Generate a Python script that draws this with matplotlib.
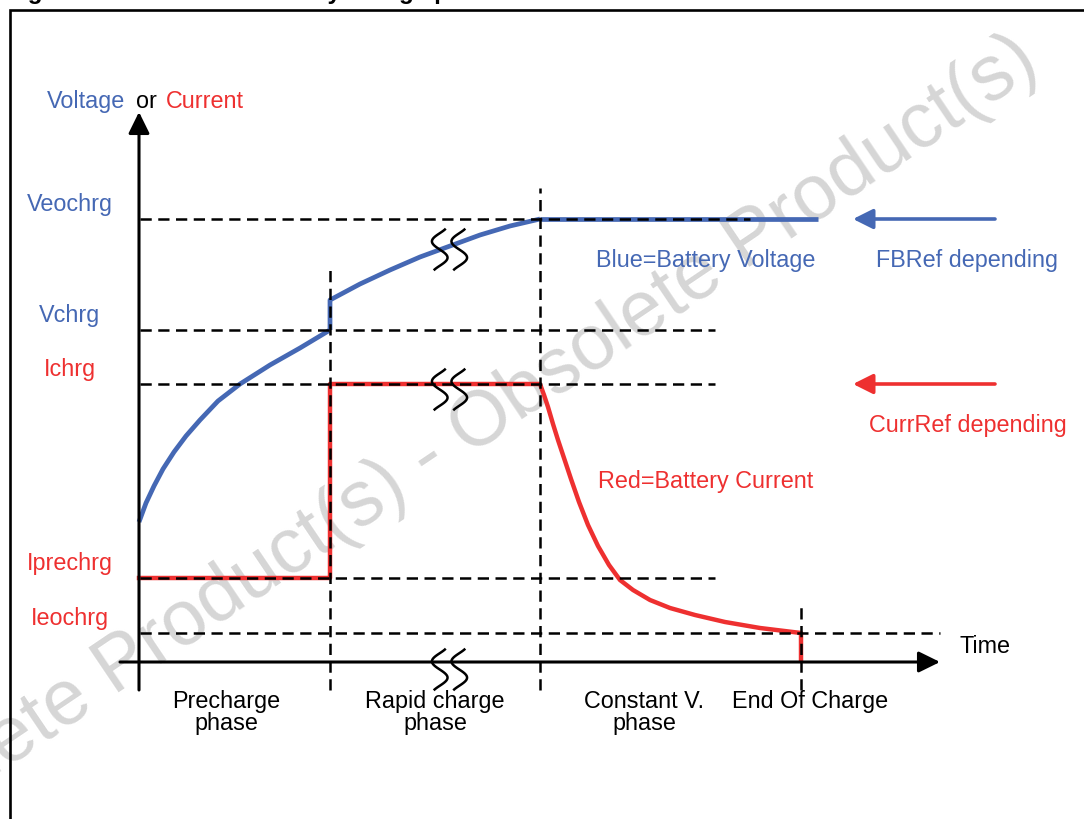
import numpy as np
import matplotlib
matplotlib.use('Agg')
import matplotlib.pyplot as plt
from matplotlib.path import Path

plt.rcParams['font.family'] = ['Liberation Sans', 'DejaVu Sans']

BLUE = '#4568b4'
RED = '#ee3030'

# ---------------- data (arbitrary units: time to the right, level upward) ----
level_names = ['Veochrg', 'Vchrg', 'Ichrg', 'Iprechrg', 'Ieochrg']
level_values = [443, 332, 278, 84, 29]
level_colors = [BLUE, BLUE, RED, RED, RED]
level_line_end = [611, 576, 576, 576, 801]

phase_bounds = [191, 401, 662]
phase_bound_top = [392, 474, 57]
phase_labels = ['Precharge\nphase', 'Rapid charge\nphase', 'Constant V.\nphase', 'End Of Charge']
phase_label_x = [87, 296, 505, 671]

# battery voltage
volt_pre_t = [0, 7, 15, 24, 35, 47, 61, 79, 101, 131, 161, 191]
volt_pre_v = [140, 159, 176, 193, 210, 226, 242, 261, 278, 297, 314, 332]
volt_rapid_t = [191, 191, 221, 251, 281, 311, 341, 371, 401]
volt_rapid_v = [332, 362, 378, 392, 405, 416, 427, 436, 443]
volt_cv_t = [401, 679]
volt_cv_v = [443, 443]

# battery current
curr_t = [0, 191, 191, 401, 405, 409, 414, 419, 425, 432, 440, 449, 459, 470,
          481, 494, 511, 531, 556, 586, 621, 662, 662]
curr_i = [84, 84, 278, 278, 267, 255, 238, 222, 204, 183, 160, 137, 116, 97,
          82, 72, 62, 54, 47, 40, 34, 29, 2]

# axis break symbols (time, level)
break_t = [310, 310, 310]
break_y = [413, 273, -7]

# ---------------- figure ----------------
fig = plt.figure(figsize=(10.84, 8.19), dpi=100)
ax = fig.add_axes([0, 0, 1, 1])
ax.set_xlim(-139, 945)
ax.set_ylim(-157, 662)
ax.axis('off')

# watermark
ax.text(290, 203, 'Obsolete Product(s) - Obsolete Product(s)', fontsize=56,
        color='#d6d6d6', rotation=34, rotation_mode='anchor',
        ha='center', va='center', zorder=0)

# frame
ax.plot([-129, -129, 960], [-160, 652, 652], color='k', lw=1.9,
        solid_joinstyle='miter', zorder=1, clip_on=False)

# title (cut at top)
ax.text(-133, 663, 'Figure 22.', fontsize=17.5, fontweight='bold', va='baseline',
        clip_on=False)
ax.text(48, 663, 'Li-ion battery charge profile', fontsize=17.5, fontweight='bold',
        va='baseline', clip_on=False)

# curves
ax.plot(volt_pre_t, volt_pre_v, color=BLUE, lw=3.4, solid_capstyle='butt',
        solid_joinstyle='round', zorder=3)
ax.plot(volt_rapid_t, volt_rapid_v, color=BLUE, lw=3.4, solid_capstyle='butt',
        solid_joinstyle='round', zorder=3)
ax.plot(volt_cv_t, volt_cv_v, color=BLUE, lw=3.4, solid_capstyle='butt', zorder=3)
ax.plot(curr_t, curr_i, color=RED, lw=3.2, solid_joinstyle='round', zorder=3)

# dashed guide lines
dash = (0, (4.5, 2.6))
for lv, xe in zip(level_values, level_line_end):
    ax.plot([1, xe], [lv, lv], color='k', lw=1.8, linestyle=dash, zorder=4)
for pb, top in zip(phase_bounds, phase_bound_top):
    ax.plot([pb, pb], [-28, top], color='k', lw=1.8, linestyle=dash, zorder=4)

# axes arrows
ax.annotate('', xy=(0, 550), xytext=(0, -28),
            arrowprops=dict(arrowstyle='-|>,head_length=0.65,head_width=0.32',
                            mutation_scale=20, lw=2.2, color='k',
                            shrinkA=0, shrinkB=0), zorder=5)
ax.annotate('', xy=(801, 0), xytext=(-19, 0),
            arrowprops=dict(arrowstyle='-|>,head_length=0.65,head_width=0.32',
                            mutation_scale=20, lw=2.2, color='k',
                            shrinkA=0, shrinkB=0), zorder=5)

# reference arrows on the right
for yv, col in [(level_values[0], BLUE), (level_values[2], RED)]:
    ax.annotate('', xy=(714, yv), xytext=(856, yv),
                arrowprops=dict(arrowstyle='-|>,head_length=0.6,head_width=0.3',
                                mutation_scale=20, lw=2.6, color=col,
                                shrinkA=0, shrinkB=0), zorder=5)

# break symbols (shape of the marker)
ts = np.linspace(-0.14, 1.14, 48)
sx = -0.48 * np.sin(2 * np.pi * ts)
sy = 1 - 2 * ts
verts = np.concatenate([np.column_stack([sx - 0.6, sy]),
                        np.column_stack([sx + 0.6, sy])])
codes = ([Path.MOVETO] + [Path.LINETO] * 47) * 2
spath = Path(verts, codes)
ax.plot(break_t, break_y, linestyle='none', marker=spath, markersize=30,
        markerfacecolor='none', markeredgecolor='k', markeredgewidth=1.8, zorder=6)

# texts
FS = 16.8
ax.text(-92, 554, 'Voltage', color=BLUE, fontsize=FS, va='baseline')
ax.text(-3, 554, 'or', color='k', fontsize=FS, va='baseline')
ax.text(27, 554, 'Current', color=RED, fontsize=FS, va='baseline')
for name, lv, col in zip(level_names, level_values, level_colors):
    ax.text(-69.5, lv + 8, name, color=col, fontsize=FS, ha='center', va='baseline')
for lab, xl in zip(phase_labels, phase_label_x):
    ax.text(xl, -28, lab, color='k', fontsize=FS, ha='center', va='top',
            linespacing=0.95, multialignment='center')
ax.text(821, 9, 'Time', color='k', fontsize=FS, va='baseline')
ax.text(457, 395, 'Blue=Battery Voltage', color=BLUE, fontsize=FS, va='baseline')
ax.text(737, 395, 'FBRef depending', color=BLUE, fontsize=FS, va='baseline')
ax.text(730, 230, 'CurrRef depending', color=RED, fontsize=FS, va='baseline')
ax.text(459, 174, 'Red=Battery Current', color=RED, fontsize=FS, va='baseline')

fig.savefig('out.png', dpi=100)
